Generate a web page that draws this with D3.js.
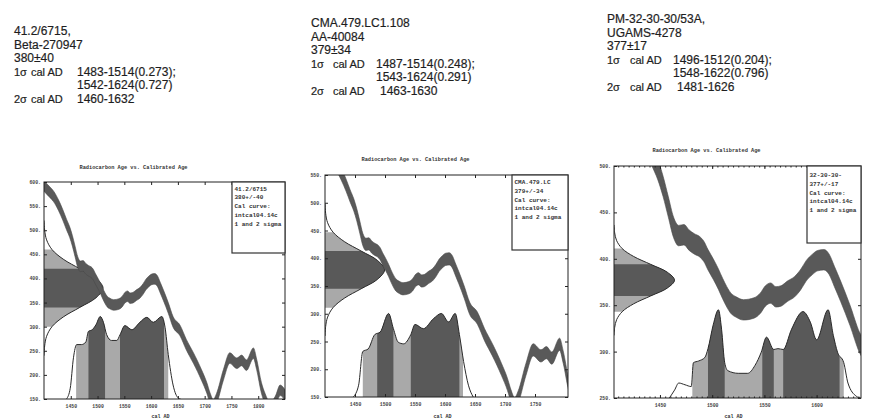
<!DOCTYPE html>
<html>
<head>
<meta charset="utf-8">
<script src="https://cdn.jsdelivr.net/npm/d3@7"></script>
<style>
  body { margin: 0; background: #fff; }
  svg { display: block; }
  .hdr { font-family: "Liberation Sans", Arial, sans-serif; font-size: 12px; fill: #1e1e1e; stroke: #1e1e1e; stroke-width: 0.2px; }
  .hdr .sm { font-size: 11px; }
  .mono { font-family: "Liberation Mono", "DejaVu Sans Mono", monospace; font-weight: bold; fill: #333; }
  .axis text { font-family: "Liberation Mono", "DejaVu Sans Mono", monospace; font-weight: bold; fill: #444; }
  .axis line { stroke: #222; }
  .axis path { display: none; }
</style>
</head>
<body>
<svg width="874" height="420"></svg>
<script>
var svg = d3.select("svg");

// header text for the three samples
var sampleNames = ["41.2/6715,", "CMA.479.LC1.108", "PM-32-30-30/53A,"];
var labCodes = ["Beta-270947", "AA-40084", "UGAMS-4278"];
var c14Ages = [380, 379, 377];
var c14Errors = [40, 34, 17];
var oneSigmaLines = [["1483-1514(0.273);", "1542-1624(0.727)"],
                     ["1487-1514(0.248);", "1543-1624(0.291)"],
                     ["1496-1512(0.204);", "1548-1622(0.796)"]];
var twoSigmaLines = ["1460-1632", "1463-1630", "1481-1626"];

// text in the box inside each plot
var legendNames = ["41.2/6715", "CMA.479.LC", "32-30-30-"];
var legendAges = ["380+/-40", "379+/-34", "377+/-17"];

// calibrated ranges as they are shaded in the plots
var twoSigmaRanges = [[1460, 1632], [1463, 1630], [1481, 1626]];
var oneSigmaRanges = [[[1483, 1514], [1542, 1624]],
                      [[1487, 1514], [1543, 1624]],
                      [[1496, 1512], [1548, 1559], [1568, 1622]]];

// axes
var xDomains = [[1400, 1850], [1400, 1805], [1406, 1642.5]];
var yDomains = [[150, 600], [150, 550], [250, 500]];
var xTickValues = [[1450, 1500, 1550, 1600, 1650, 1700, 1750, 1800],
                   [1450, 1500, 1550, 1600, 1650, 1700, 1750],
                   [1450, 1500, 1550, 1600]];
var yTickValues = [[150, 200, 250, 300, 350, 400, 450, 500, 550, 600],
                   [150, 200, 250, 300, 350, 400, 450, 500, 550],
                   [250, 300, 350, 400, 450, 500]];

// calibration curve (intcal04): cal AD -> 14C age BP
var calYears = [1395, 1400, 1410, 1418, 1427, 1435, 1442, 1448, 1453, 1458,
                1463, 1468, 1473, 1478, 1483, 1488, 1492, 1496, 1501, 1506,
                1510, 1514, 1518, 1523, 1530, 1540, 1546, 1551, 1556, 1561,
                1566, 1572, 1579, 1585, 1590, 1596, 1601, 1607, 1612, 1617,
                1623, 1632, 1641, 1654, 1666, 1679, 1694, 1704, 1710, 1716,
                1722, 1735, 1747, 1760, 1769, 1778, 1791, 1797, 1806, 1813,
                1822, 1832, 1841, 1850];
var calBP = [600, 592, 580, 570, 552, 532, 512, 496, 478, 456,
             434, 425, 426, 420, 416, 413, 408, 399, 389, 378,
             368, 359, 352, 348, 345, 347, 352, 360, 363, 359,
             360, 365, 370, 378, 387, 394, 398, 399, 394, 381,
             365, 339, 310, 292, 262, 235, 200, 173, 152, 138,
             150, 200, 235, 224, 230, 220, 245, 222, 173, 150,
             132, 145, 168, 158];
var calHalfWidth = 11;

// radiocarbon age profile (in units of the lab error) and its relative height
var profileSteps = [-3.5, -3, -2.5, -2, -1.5, -1, -0.5, 0, 0.5, 1, 1.5, 2, 2.5, 3, 3.5];
var profileHeights = [0.002, 0.011, 0.044, 0.135, 0.325, 0.607, 0.882, 1,
                      0.882, 0.607, 0.325, 0.135, 0.044, 0.011, 0.002];

// calibrated probability (relative to its peak)
var probYears = [
  [1442, 1449, 1455, 1461, 1470, 1478, 1483, 1490, 1497, 1505, 1511, 1517, 1526,
   1536, 1542, 1551, 1564, 1579, 1592, 1604, 1620, 1626, 1632, 1641, 1651, 1655],
  [1447, 1456, 1463, 1472, 1483, 1492, 1506, 1514, 1522, 1531, 1543, 1550, 1564,
   1581, 1594, 1606, 1617, 1624, 1631, 1639, 1647],
  [1459, 1464, 1468, 1474, 1480, 1482, 1487, 1493, 1496, 1501, 1506, 1509, 1512,
   1515, 1525, 1534, 1541, 1547, 1552, 1559, 1563, 1568, 1576, 1587, 1594, 1600,
   1611, 1616, 1620, 1626, 1630, 1638, 1642]
];
var probValues = [
  [0, 0.13, 0.50, 0.66, 0.66, 0.69, 0.82, 0.84, 0.90, 1.0, 0.93, 0.78, 0.71,
   0.71, 0.78, 0.89, 0.84, 0.93, 0.99, 0.93, 1.0, 0.87, 0.54, 0.17, 0.01, 0],
  [0, 0.14, 0.54, 0.57, 0.74, 0.77, 0.99, 0.81, 0.65, 0.63, 0.74, 0.86, 0.81,
   0.93, 0.99, 0.89, 0.99, 0.74, 0.42, 0.14, 0],
  [0, 0.09, 0.17, 0.15, 0.13, 0.40, 0.42, 0.46, 0.56, 0.83, 1.0, 0.78, 0.40,
   0.31, 0.28, 0.28, 0.37, 0.52, 0.69, 0.55, 0.56, 0.55, 0.78, 0.98, 0.86, 0.66,
   1.0, 0.71, 0.52, 0.40, 0.17, 0.02, 0]
];

// page layout of each panel
var panels = [
  {left: 44, right: 285, top: 182, bottom: 399, titleY: 169, box: [232, 182, 53, 71], boxY: 190.5,
   hx: 14, hy: 35, calDx: 17, oneDx: 63, twoDx: 63},
  {left: 325, right: 568, top: 175, bottom: 397, titleY: 161, box: [512, 175, 56, 75], boxY: 184,
   hx: 311, hy: 27, calDx: 22, oneDx: 65, twoDx: 69},
  {left: 614, right: 861, top: 166, bottom: 398, titleY: 152, box: [807, 166, 54, 77], boxY: 177,
   hx: 607, hy: 23, calDx: 23, oneDx: 66, twoDx: 70}
];

var darkGray = "#595959", lightGray = "#a9a9a9", ink = "#2a2a2a";

panels.forEach(function (p, i) {
  drawHeader(p, i);
  drawPlot(p, i);
});

function drawHeader(p, i) {
  var g = svg.append("g").attr("class", "hdr");
  var step = 13.6;
  g.append("text").attr("x", p.hx).attr("y", p.hy).text(sampleNames[i]);
  g.append("text").attr("x", p.hx).attr("y", p.hy + step).text(labCodes[i]);
  g.append("text").attr("x", p.hx).attr("y", p.hy + 2 * step).text(c14Ages[i] + "\u00b1" + c14Errors[i]);
  g.append("text").attr("class", "sm").attr("x", p.hx).attr("y", p.hy + 3 * step).text("1\u03c3");
  g.append("text").attr("class", "sm").attr("x", p.hx + p.calDx).attr("y", p.hy + 3 * step).text("cal AD");
  g.append("text").attr("x", p.hx + p.oneDx).attr("y", p.hy + 3 * step).text(oneSigmaLines[i][0]);
  g.append("text").attr("x", p.hx + p.oneDx).attr("y", p.hy + 4 * step).text(oneSigmaLines[i][1]);
  g.append("text").attr("class", "sm").attr("x", p.hx).attr("y", p.hy + 5 * step).text("2\u03c3");
  g.append("text").attr("class", "sm").attr("x", p.hx + p.calDx).attr("y", p.hy + 5 * step).text("cal AD");
  g.append("text").attr("x", p.hx + p.twoDx).attr("y", p.hy + 5 * step).text(twoSigmaLines[i]);
}

function drawPlot(p, i) {
  var w = p.right - p.left, h = p.bottom - p.top;
  var x = d3.scaleLinear().domain(xDomains[i]).range([p.left, p.right]);
  var y = d3.scaleLinear().domain(yDomains[i]).range([p.bottom, p.top]);
  var g = svg.append("g");

  // clip for the whole plot area
  var clipId = "plot-clip-" + i;
  svg.append("clipPath").attr("id", clipId)
    .append("rect").attr("x", p.left).attr("y", p.top).attr("width", w).attr("height", h);
  var inner = g.append("g").attr("clip-path", "url(#" + clipId + ")");

  // calibrated probability at the bottom
  var probH = 0.38 * h;
  var probData = probYears[i].map(function (yr, k) { return [yr, probValues[i][k]]; });
  var probArea = d3.area()
    .x(function (d) { return x(d[0]); })
    .y0(p.bottom)
    .y1(function (d) { return p.bottom - d[1] * probH; })
    .curve(d3.curveMonotoneX);
  var probLine = d3.line()
    .x(function (d) { return x(d[0]); })
    .y(function (d) { return p.bottom - d[1] * probH; })
    .curve(d3.curveMonotoneX);

  var bands = [{ranges: [twoSigmaRanges[i]], fill: lightGray}, {ranges: oneSigmaRanges[i], fill: darkGray}];
  bands.forEach(function (b, bi) {
    b.ranges.forEach(function (r, ri) {
      var id = "prob-" + i + "-" + bi + "-" + ri;
      svg.append("clipPath").attr("id", id)
        .append("rect").attr("x", x(r[0])).attr("y", p.top)
        .attr("width", x(r[1]) - x(r[0])).attr("height", h);
      inner.append("path").datum(probData)
        .attr("clip-path", "url(#" + id + ")")
        .attr("fill", b.fill)
        .attr("d", probArea);
    });
  });
  inner.append("path").datum(probData)
    .attr("fill", "none").attr("stroke", ink).attr("stroke-width", 1)
    .attr("d", probLine);

  // radiocarbon age on the left
  var gw = 0.245 * w;
  var m = c14Ages[i], e = c14Errors[i];
  var prof = profileSteps.map(function (s, k) { return [m + s * e, profileHeights[k]]; });
  var profArea = d3.area()
    .y(function (d) { return y(d[0]); })
    .x0(p.left)
    .x1(function (d) { return p.left + d[1] * gw; })
    .curve(d3.curveCatmullRom);
  var profLine = d3.line()
    .y(function (d) { return y(d[0]); })
    .x(function (d) { return p.left + d[1] * gw; })
    .curve(d3.curveCatmullRom);
  [[2, lightGray], [1, darkGray]].forEach(function (s) {
    var id = "c14-" + i + "-" + s[0];
    svg.append("clipPath").attr("id", id)
      .append("rect").attr("x", p.left).attr("y", y(m + s[0] * e))
      .attr("width", gw + 4).attr("height", y(m - s[0] * e) - y(m + s[0] * e));
    inner.append("path").datum(prof)
      .attr("clip-path", "url(#" + id + ")")
      .attr("fill", s[1])
      .attr("d", profArea);
  });
  inner.append("path").datum(prof)
    .attr("fill", "none").attr("stroke", ink).attr("stroke-width", 1)
    .attr("d", profLine);

  // calibration curve band
  var calData = calYears.map(function (yr, k) { return [yr, calBP[k]]; });
  inner.append("path").datum(calData)
    .attr("fill", darkGray)
    .attr("stroke", "#4a4a4a").attr("stroke-width", 0.6)
    .attr("d", d3.area()
      .x(function (d) { return x(d[0]); })
      .y0(function (d) { return y(d[1] - calHalfWidth); })
      .y1(function (d) { return y(d[1] + calHalfWidth); })
      .curve(d3.curveMonotoneX));

  // axes with inward ticks
  g.append("g").attr("class", "axis")
    .attr("transform", "translate(" + p.left + ",0)")
    .call(d3.axisLeft(y).tickValues(yTickValues[i]).tickSize(-3).tickPadding(3)
      .tickFormat(function (d) { return d + "."; }))
    .selectAll("text").style("font-size", "4.8px");
  g.append("g").attr("class", "axis")
    .attr("transform", "translate(" + p.right + ",0)")
    .call(d3.axisRight(y).tickValues(yTickValues[i]).tickSize(-3).tickFormat(""));
  g.append("g").attr("class", "axis")
    .attr("transform", "translate(0," + p.bottom + ")")
    .call(d3.axisBottom(x).tickValues(xTickValues[i]).tickSize(-3).tickPadding(6)
      .tickFormat(d3.format("d")))
    .selectAll("text").style("font-size", "4.8px");
  g.append("g").attr("class", "axis")
    .attr("transform", "translate(0," + p.top + ")")
    .call(d3.axisTop(x).tickValues(xTickValues[i]).tickSize(-3).tickFormat(""));
  if (i === 2) {
    var minor = d3.range(1410, 1642, 5);
    g.append("g").attr("class", "axis")
      .attr("transform", "translate(0," + p.top + ")")
      .call(d3.axisTop(x).tickValues(minor).tickSize(-1.5).tickFormat(""));
    g.append("g").attr("class", "axis")
      .attr("transform", "translate(0," + p.bottom + ")")
      .call(d3.axisBottom(x).tickValues(minor).tickSize(-1.5).tickFormat(""));
  }

  // frame
  g.append("rect")
    .attr("x", p.left).attr("y", p.top).attr("width", w).attr("height", h)
    .attr("fill", "none").attr("stroke", "#222").attr("stroke-width", 1);

  // title and x axis name
  g.append("text").attr("class", "mono")
    .attr("x", (p.left + p.right) / 2 - 31).attr("y", p.titleY)
    .attr("text-anchor", "middle").style("font-size", "5.3px")
    .text("Radiocarbon Age vs. Calibrated Age");
  g.append("text").attr("class", "mono")
    .attr("x", (p.left + p.right) / 2 - 4).attr("y", 418)
    .attr("text-anchor", "middle").style("font-size", "5px")
    .text("cal AD");

  // legend box
  var b = p.box;
  g.append("rect").attr("x", b[0]).attr("y", b[1]).attr("width", b[2]).attr("height", b[3])
    .attr("fill", "#fff").attr("stroke", "#333").attr("stroke-width", 1.2);
  var lines = [legendNames[i], legendAges[i], "Cal curve:", "intcal04.14c", "1 and 2 sigma"];
  g.append("g").selectAll("text").data(lines).enter().append("text")
    .attr("class", "mono")
    .attr("x", b[0] + 2.5)
    .attr("y", function (d, k) { return p.boxY + k * 8.8; })
    .style("font-size", "6px")
    .text(function (d) { return d; });
}
</script>
</body>
</html>
